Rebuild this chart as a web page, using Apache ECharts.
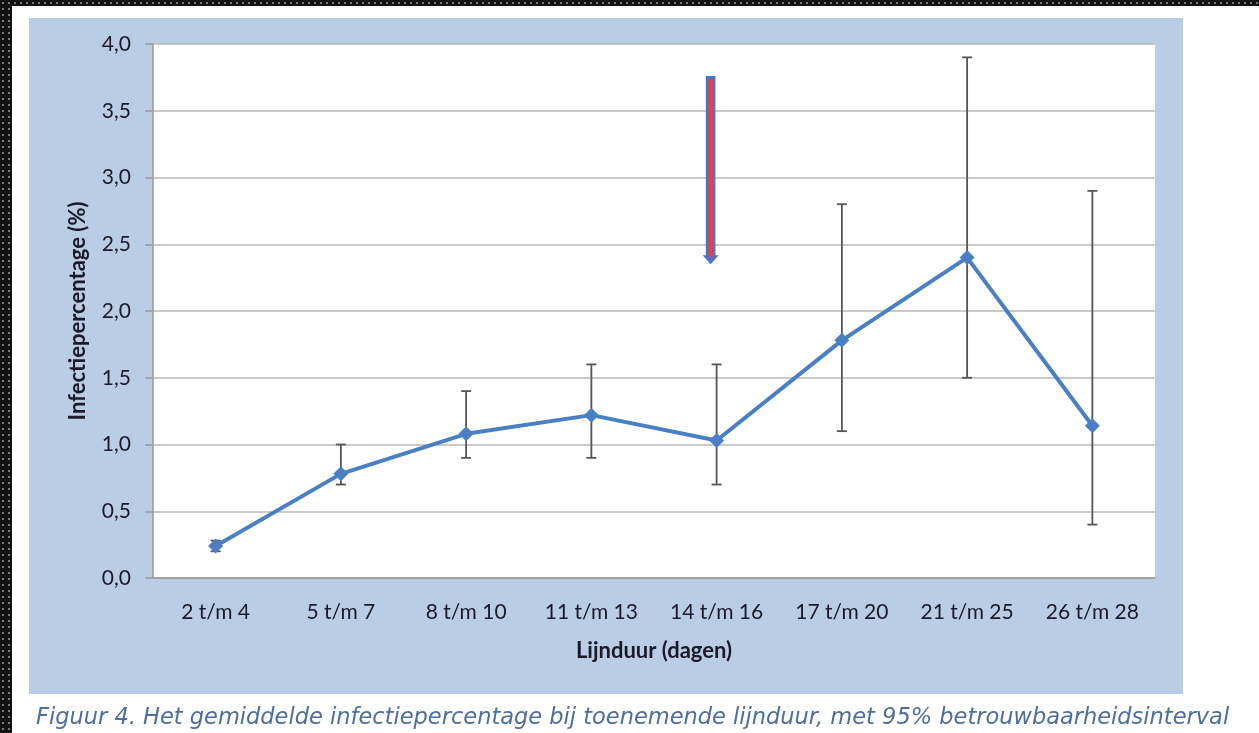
<!DOCTYPE html>
<html><head><meta charset="utf-8">
<script src="https://cdn.jsdelivr.net/npm/echarts@6/dist/echarts.min.js"></script>
<style>
html,body{margin:0;padding:0;width:1259px;height:733px;overflow:hidden;background:#fff;}
#topb{position:absolute;left:0;top:0;width:1259px;height:6px;background-color:#111;background-image:radial-gradient(circle,#777 1px,transparent 1.6px);background-size:6px 6px;}
#leftb{position:absolute;left:0;top:0;width:12px;height:733px;background-color:#111;background-image:radial-gradient(circle,#777 1px,transparent 1.6px);background-size:6px 6px;}
#panel{position:absolute;left:29px;top:18px;width:1154px;height:676px;background:#b9cde5;}
#chart{position:absolute;left:0;top:0;width:1259px;height:733px;}
</style></head>
<body>
<div id="topb"></div><div id="leftb"></div><div id="panel"></div>
<div id="chart"></div>
<script>
const categories = ['2 t/m 4','5 t/m 7','8 t/m 10','11 t/m 13','14 t/m 16','17 t/m 20','21 t/m 25','26 t/m 28'];
const meanValues = [0.24, 0.78, 1.08, 1.22, 1.03, 1.78, 2.40, 1.14];
const lowerCI = [0.20, 0.70, 0.90, 0.90, 0.70, 1.10, 1.50, 0.40];
const upperCI = [0.28, 1.00, 1.40, 1.60, 1.60, 2.80, 3.90, 2.90];
const arrowCategoryIndex = 4;
const arrowFrom = 3.75;
const arrowTo = 2.35;
const yTicks = {min: 0, max: 4, interval: 0.5};
const caption = 'Figuur 4. Het gemiddelde infectiepercentage bij toenemende lijnduur, met 95% betrouwbaarheidsinterval';

const chart = echarts.init(document.getElementById('chart'), null, {renderer:'canvas'});
const errData = categories.map((c,i)=>[i, lowerCI[i], upperCI[i]]);
const font = 'Lato, "Open Sans", sans-serif';
chart.setOption({
  animation:false,
  backgroundColor:'transparent',
  title:{text:caption, left:31, top:702,
    textStyle:{fontFamily:'"DejaVu Sans", Verdana, sans-serif', fontStyle:'italic', fontWeight:'normal', fontSize:22.5, color:'#4f6e98'}},
  grid:{left:153, right:104, top:44, bottom:155, show:true, backgroundColor:'#fff', borderWidth:0},
  xAxis:{type:'category', data:categories, boundaryGap:true,
    axisLine:{show:true, lineStyle:{color:'#9a9a9a', width:1.5}},
    axisTick:{show:false},
    axisLabel:{color:'#1a1a2a', fontSize:21, fontFamily:font, margin:24},
    name:'Lijnduur (dagen)', nameLocation:'middle', nameGap:62,
    nameTextStyle:{color:'#1a1a2a', fontSize:22, fontWeight:'bold', fontFamily:font}},
  yAxis:{type:'value', min:yTicks.min, max:yTicks.max, interval:yTicks.interval,
    axisLine:{show:true, lineStyle:{color:'#9a9a9a', width:1.5}},
    axisTick:{show:true, length:8, lineStyle:{color:'#9a9a9a', width:1.5}},
    splitLine:{show:true, lineStyle:{color:'#b8b8b8', width:1.5}},
    axisLabel:{color:'#1a1a2a', fontSize:21, fontFamily:font, margin:22,
      formatter:v=>v.toFixed(1).replace('.',',')},
    name:'Infectiepercentage (%)', nameLocation:'middle', nameGap:64,
    nameTextStyle:{color:'#1a1a2a', fontSize:22, fontWeight:'bold', fontFamily:font}},
  series:[
    {type:'custom', data:errData, z:2,
     renderItem:(params, api)=>{
       const x = api.value(0);
       const lo = api.coord([x, api.value(1)]);
       const hi = api.coord([x, api.value(2)]);
       const hw = 5;
       const st = {stroke:'#555', lineWidth:1.8};
       return {type:'group', children:[
         {type:'line', shape:{x1:lo[0],y1:lo[1],x2:hi[0],y2:hi[1]}, style:st},
         {type:'line', shape:{x1:lo[0]-hw,y1:lo[1],x2:lo[0]+hw,y2:lo[1]}, style:st},
         {type:'line', shape:{x1:hi[0]-hw,y1:hi[1],x2:hi[0]+hw,y2:hi[1]}, style:st}
       ]};
     }},
    {type:'line', data:meanValues, z:3, symbol:'diamond', symbolSize:15,
     lineStyle:{color:'#4a7fc4', width:4}, itemStyle:{color:'#4a7fc4'}}
  ]
});

function drawArrow(){
  const p1 = chart.convertToPixel({gridIndex:0}, [arrowCategoryIndex, arrowFrom]);
  const p2 = chart.convertToPixel({gridIndex:0}, [arrowCategoryIndex, arrowTo]);
  const x = p1[0] - 6;
  const headH = 9, headW = 8;
  chart.setOption({graphic:[
    {type:'rect', shape:{x:x-3.5, y:p1[1], width:7, height:p2[1]-p1[1]-headH+2}, style:{fill:'#e8403c', stroke:'#4a72c8', lineWidth:2.6}, z:10},
    {type:'polygon', shape:{points:[[x-headW,p2[1]-headH],[x+headW,p2[1]-headH],[x,p2[1]]]}, style:{fill:'#4a72c8'}, z:10},
    {type:'rect', shape:{x:x-1.2, y:p2[1]-headH-2, width:2.4, height:5}, style:{fill:'#e8403c'}, z:11}
  ]});
}
drawArrow();
</script>
</body></html>
